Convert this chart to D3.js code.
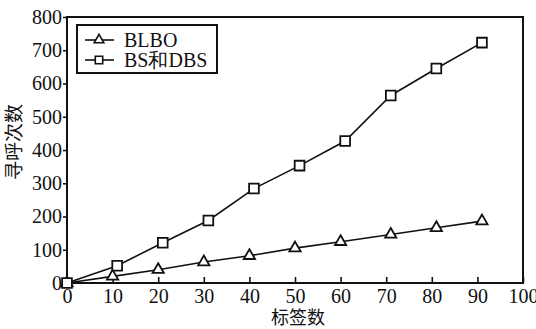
<!DOCTYPE html>
<html>
<head>
<meta charset="utf-8">
<script src="https://cdn.jsdelivr.net/npm/d3@7"></script>
</head>
<body style="margin:0;background:#fff">
<div id="chart"></div>
<script>
// data
const blboX = [0, 10, 20, 30, 40, 50, 60, 71, 81, 91];
const blboY = [0, 20, 40, 63, 82, 105, 124, 146, 166, 186];
const bsX = [0, 11, 21, 31, 41, 51, 61, 71, 81, 91];
const bsY = [0, 52, 121, 188, 284, 353, 427, 564, 645, 723];
const xTicks = [0, 10, 20, 30, 40, 50, 60, 70, 80, 90, 100];
const yTicks = [0, 100, 200, 300, 400, 500, 600, 700, 800];
const seriesNames = ["BLBO", "BS和DBS"];

const SERIF = "Liberation Serif, Times New Roman, Times, DejaVu Serif, Noto Serif, serif";
const CJK = "Noto Sans CJK SC, sans-serif";

const W = 536, H = 329;
const margin = {top: 17, right: 13, bottom: 46, left: 67};
const width = W - margin.left - margin.right,
      height = H - margin.top - margin.bottom;

const svg = d3.select("#chart").append("svg")
  .attr("width", W).attr("height", H)
  .append("g")
  .attr("transform", `translate(${margin.left},${margin.top})`);

const x = d3.scaleLinear().domain([0, 100]).range([0, width]);
const y = d3.scaleLinear().domain([0, 800]).range([height, 0]);

// x axis, ticks pointing inward
const xAxis = svg.append("g")
  .attr("transform", `translate(0,${height})`)
  .call(d3.axisBottom(x).tickValues(xTicks).tickSize(-6).tickPadding(6))
  .attr("font-family", SERIF).attr("font-size", 20);
xAxis.select(".domain").remove();
xAxis.selectAll(".tick line").attr("stroke", "#111").attr("stroke-width", 1.6);
xAxis.selectAll("text").attr("fill", "#111").attr("dy", "0.72em");

// y axis, ticks outward
const yAxis = svg.append("g")
  .call(d3.axisLeft(y).tickValues(yTicks).tickSize(4).tickPadding(1))
  .attr("font-family", SERIF).attr("font-size", 20);
yAxis.select(".domain").remove();
yAxis.selectAll(".tick line").attr("stroke", "#111").attr("stroke-width", 1.6);
yAxis.selectAll("text").attr("fill", "#111");

// frame
svg.append("rect")
  .attr("width", width).attr("height", height)
  .attr("fill", "none").attr("stroke", "#111").attr("stroke-width", 2);

// lines
const line = d3.line().x(d => x(d[0])).y(d => y(d[1]));
const blbo = blboX.map((v, i) => [v, blboY[i]]);
const bs = bsX.map((v, i) => [v, bsY[i]]);

[blbo, bs].forEach(s => {
  svg.append("path").datum(s)
    .attr("d", line)
    .attr("fill", "none").attr("stroke", "#111").attr("stroke-width", 1.6);
});

const tri = d3.symbol().type(d3.symbolTriangle).size(55);
const sq = d3.symbol().type(d3.symbolSquare).size(95);

svg.selectAll(".tri").data(blbo).join("path")
  .attr("class", "tri")
  .attr("d", tri)
  .attr("transform", d => `translate(${x(d[0])},${y(d[1])})`)
  .attr("fill", "#fff").attr("stroke", "#111").attr("stroke-width", 1.8);

svg.selectAll(".sq").data(bs).join("path")
  .attr("class", "sq")
  .attr("d", sq)
  .attr("transform", d => `translate(${x(d[0])},${y(d[1])})`)
  .attr("fill", "#fff").attr("stroke", "#111").attr("stroke-width", 1.8);

// legend
const lg = svg.append("g").attr("transform", "translate(10,8)")
  .attr("font-family", SERIF).attr("font-size", 20);
lg.append("rect")
  .attr("width", 140).attr("height", 48)
  .attr("fill", "#fff").attr("stroke", "#111").attr("stroke-width", 2);
const legendSymbols = [
  d3.symbol().type(d3.symbolTriangle).size(40),
  d3.symbol().type(d3.symbolSquare).size(55)
];
seriesNames.forEach((name, i) => {
  const yy = 15 + i * 20;
  lg.append("line")
    .attr("x1", 8).attr("x2", 37).attr("y1", yy).attr("y2", yy)
    .attr("stroke", "#111").attr("stroke-width", 1.6);
  lg.append("path")
    .attr("d", legendSymbols[i])
    .attr("transform", `translate(22,${yy})`)
    .attr("fill", "#fff").attr("stroke", "#111").attr("stroke-width", 1.6);
  lg.append("text")
    .attr("x", 47).attr("y", yy).attr("dy", "0.35em")
    .attr("fill", "#111")
    .text(name);
});

// axis titles
svg.append("text")
  .attr("x", width / 2 + 3).attr("y", height + 41)
  .attr("text-anchor", "middle")
  .attr("font-family", CJK).attr("font-size", 18)
  .attr("fill", "#111")
  .text("标签数");

svg.append("text")
  .attr("transform", `translate(${-46},${height / 2 - 8}) rotate(-90)`)
  .attr("text-anchor", "middle")
  .attr("font-family", CJK).attr("font-size", 19)
  .attr("fill", "#111")
  .text("寻呼次数");
</script>
</body>
</html>
